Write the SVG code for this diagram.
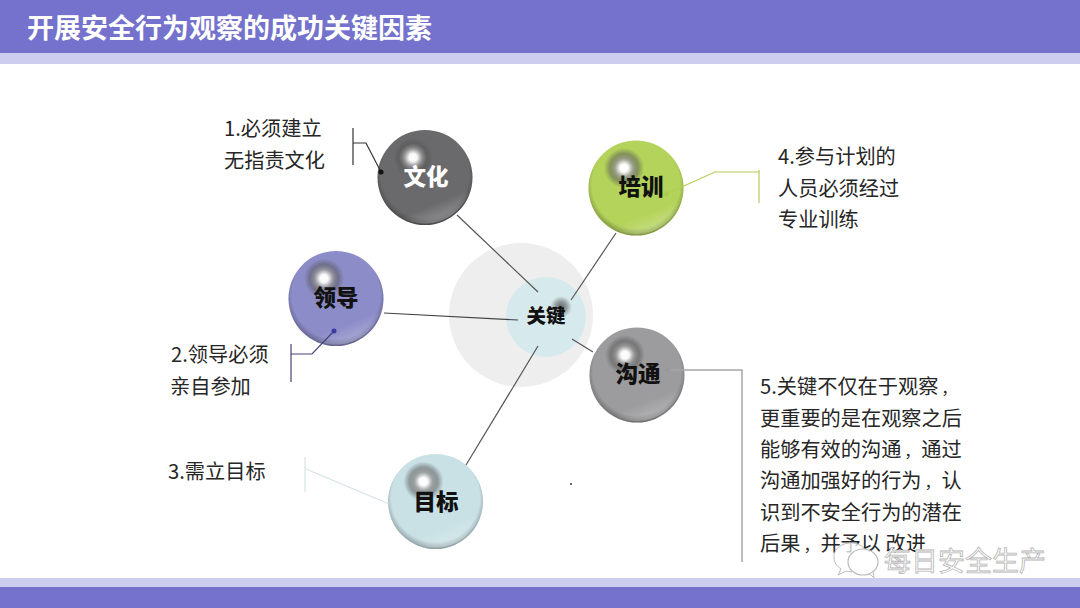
<svg xmlns="http://www.w3.org/2000/svg" width="1080" height="608" viewBox="0 0 1080 608">
<style>
text{font-family:"Noto Sans CJK SC","Liberation Sans",sans-serif}
.l{font-size:20.2px;fill:#262626}
.p{font-size:16px}
.n{font-size:22.5px;font-weight:900;fill:#111;text-anchor:middle}
.c{fill:none;stroke-width:1.2}
</style>
<defs>
<radialGradient id="hl"><stop offset="0" stop-color="#fff"/><stop offset=".2" stop-color="#fff" stop-opacity=".95"/><stop offset=".45" stop-color="#999" stop-opacity=".85"/><stop offset=".72" stop-color="#555" stop-opacity=".5"/><stop offset="1" stop-color="#555" stop-opacity="0"/></radialGradient>
<radialGradient id="hd"><stop offset="0" stop-color="#555" stop-opacity=".9"/><stop offset=".55" stop-color="#666" stop-opacity=".55"/><stop offset="1" stop-color="#777" stop-opacity="0"/></radialGradient>
<radialGradient id="sh" cx=".5" cy=".46" r=".54"><stop offset=".86" stop-color="#000" stop-opacity="0"/><stop offset="1" stop-color="#000" stop-opacity=".3"/></radialGradient>
<linearGradient id="gl" x1=".3" y1="0" x2=".7" y2="1"><stop offset=".78" stop-color="#fff" stop-opacity="0"/><stop offset="1" stop-color="#fff" stop-opacity=".3"/></linearGradient>
<g id="ball"><circle r="47.5" fill="url(#sh)"/><circle r="46" fill="url(#gl)"/><circle cx="-12" cy="-20" r="20" fill="url(#hl)"/></g>
</defs>
<rect width="1080" height="608" fill="#fff"/>
<rect width="1080" height="53" fill="#7472cc"/>
<rect y="53" width="1080" height="11" fill="#cdcdf0"/>
<rect y="578" width="1080" height="9" fill="#cdcdf0"/>
<rect y="587" width="1080" height="21" fill="#7472cc"/>
<text x="27" y="38" font-weight="700" fill="#fff" style="font-size:27px">开展安全行为观察的成功关键因素</text>

<circle cx="521" cy="315" r="72" fill="#eeeeef"/>

<g id="node-center"><circle cx="546" cy="317" r="40" fill="#d6eaed"/><circle cx="561" cy="307" r="11" fill="url(#hd)"/><text x="546" y="323" class="n" style="font-size:19.5px">关键</text></g>

<g id="node-wenhua"><circle cx="425" cy="177.5" r="47.5" fill="#6a696b"/><use href="#ball" x="425" y="177.5"/><text x="426" y="185" class="n" style="fill:#fff">文化</text></g>
<g id="node-peixun"><circle cx="636" cy="188" r="47.5" fill="#b4d35a"/><use href="#ball" x="636" y="188"/><text x="641" y="195" class="n">培训</text></g>
<g id="node-lingdao"><circle cx="336" cy="298.5" r="47.5" fill="#8c8cc8"/><use href="#ball" x="336" y="298.5"/><text x="336" y="306" class="n">领导</text></g>
<g id="node-goutong"><circle cx="637" cy="375" r="47.5" fill="#9c9b9d"/><use href="#ball" x="637" y="375"/><text x="638" y="382" class="n">沟通</text></g>
<g id="node-mubiao"><circle cx="435.5" cy="501.5" r="47.5" fill="#c9e1e5"/><use href="#ball" x="435.5" y="501.5"/><text x="436" y="510" class="n">目标</text></g>

<g id="connectors">
<path class="c" stroke="#555" d="M457 215L538 292"/>
<path class="c" stroke="#555" d="M616 233L571 300"/>
<path class="c" stroke="#444" d="M384 313L518 320"/>
<path class="c" stroke="#555" d="M572 339L593 352"/>
<path class="c" stroke="#555" d="M466 465L538 346"/>
<path class="c" stroke="#333" d="M353 128V165M353 143H366L381 172"/>
<circle cx="381" cy="172" r="2.5" fill="#111"/>
<path class="c" stroke="#b5cc55" d="M759 170V203M759 172H715L666 194"/>
<circle cx="666" cy="194" r="2.5" fill="#a8cf45"/>
<path class="c" stroke="#44447a" d="M291 344V382M291 354H312L334 331"/>
<circle cx="334" cy="331" r="2.5" fill="#3a3aa0"/>
<path class="c" stroke="#d5e3e6" d="M305 457V492M306 469L389 504"/>
<path class="c" stroke="#a8a8a8" style="stroke-width:1.5" d="M668 370H742V562"/>
<circle cx="668" cy="370" r="2.5" fill="#999"/>
</g>

<g id="labels">
<text class="l" x="224" y="136">1.必须建立</text>
<text class="l" x="224" y="168">无指责文化</text>
<text class="l" x="171" y="362">2.领导必须</text>
<text class="l" x="170" y="394">亲自参加</text>
<text class="l" x="168" y="479">3.需立目标</text>
<text class="l" x="778" y="164">4.参与计划的</text>
<text class="l" x="778" y="196">人员必须经过</text>
<text class="l" x="778" y="227">专业训练</text>
<text class="l" x="760" y="394">5.关键不仅在于观察<tspan class="p" dx="3">，</tspan></text>
<text class="l" x="760" y="426">更重要的是在观察之后</text>
<text class="l" x="760" y="457">能够有效的沟通<tspan class="p" dx="3">，</tspan><tspan dx="1">通过</tspan></text>
<text class="l" x="760" y="488">沟通加强好的行为<tspan class="p" dx="3">，</tspan><tspan dx="1">认</tspan></text>
<text class="l" x="760" y="520">识到不安全行为的潜在</text>
<text class="l" x="760" y="551">后果<tspan class="p" dx="3">，</tspan><tspan dx="1">并予以  改进</tspan></text>
</g>
<circle cx="571" cy="484" r="1" fill="#333"/>

<g id="watermark">
<path d="M866 551c-3-6-11-9-17-8-10 1-16 8-15 15 0 5 3 8 7 11l-3 6 8-4 6 1" fill="#fff" fill-opacity=".75" stroke="#bbb" stroke-width="1"/>
<ellipse cx="863" cy="562" rx="15" ry="13" fill="#fff" fill-opacity=".8" stroke="#bbb" stroke-width="1.2"/>
<path d="M870 574l4 4-1-6" fill="#fff" stroke="#bbb"/>
<text x="884" y="571" fill="#fff" stroke="#b5b5b5" stroke-width=".8" style="font-size:27px">每日安全生产</text>
</g>
</svg>
